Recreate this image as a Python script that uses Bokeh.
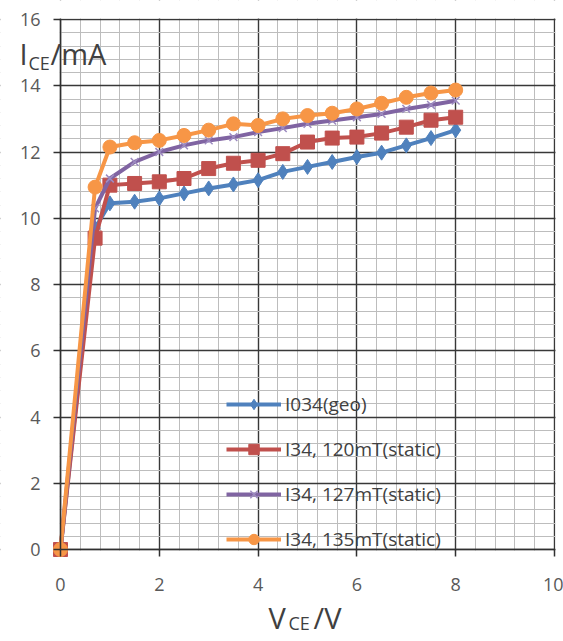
from bokeh.plotting import figure
from bokeh.models import FixedTicker, Range1d, Label, Legend, LegendItem, BoxAnnotation
from bokeh.embed import file_html
from bokeh.resources import INLINE

# ---- data ----
vce = [0, 0.7, 1, 1.5, 2, 2.5, 3, 3.5, 4, 4.5, 5, 5.5, 6, 6.5, 7, 7.5, 8]
i_geo = [0, 9.7, 10.45, 10.5, 10.6, 10.75, 10.9, 11.02, 11.15, 11.4, 11.55, 11.7, 11.85, 11.98, 12.2, 12.42, 12.66]
i_120 = [0, 9.4, 11.0, 11.05, 11.1, 11.2, 11.5, 11.66, 11.75, 11.95, 12.3, 12.42, 12.45, 12.57, 12.75, 12.96, 13.05]
i_127 = [0, 10.3, 11.2, 11.7, 12.0, 12.2, 12.35, 12.45, 12.6, 12.72, 12.85, 12.95, 13.05, 13.15, 13.3, 13.42, 13.55]
i_135 = [0, 10.94, 12.15, 12.28, 12.35, 12.5, 12.66, 12.85, 12.8, 13.0, 13.1, 13.17, 13.3, 13.47, 13.65, 13.78, 13.87]
series_names = ["I034(geo)", "I34, 120mT(static)", "I34, 127mT(static)", "I34, 135mT(static)"]
x_ticks = [0, 2, 4, 6, 8, 10]
y_ticks = [0, 2, 4, 6, 8, 10, 12, 14, 16]
x_minor = [round(0.4 * k, 1) for k in range(26)]
y_minor = [round(0.4 * k, 1) for k in range(41)]
X_MIN, X_MAX = 0, 10
Y_MIN, Y_MAX = 0, 16

FONT = "Open Sans"
TXT = "#404040"

W, H = 563, 641
FL, FR, FT, FB = 60, 554, 19, 549          # pixel position of the 0..10 / 0..16 box
sx = (FR - FL) / (X_MAX - X_MIN)
sy = (FB - FT) / (Y_MAX - Y_MIN)
xr = Range1d(X_MIN - FL / sx, X_MAX + (W - FR) / sx)
yr = Range1d(Y_MIN - (H - FB) / sy, Y_MAX + FT / sy)

p = figure(width=W, height=H, output_backend="svg", toolbar_location=None,
           x_range=xr, y_range=yr, min_border=0,
           min_border_left=0, min_border_right=0, min_border_top=0, min_border_bottom=0)
p.outline_line_color = None
p.background_fill_color = "white"
p.border_fill_color = "white"

for g in (p.xgrid[0], p.ygrid[0]):
    g.grid_line_color = "#383838"
    g.grid_line_width = 1.4
    g.minor_grid_line_color = "#bdbdbd"
    g.minor_grid_line_width = 1
p.xgrid[0].ticker = FixedTicker(ticks=x_ticks, minor_ticks=x_minor)
p.ygrid[0].ticker = FixedTicker(ticks=y_ticks, minor_ticks=y_minor)

# white masks outside the 0..10 x 0..16 box (grid only)
for kw in (dict(right=X_MIN - 0.02), dict(left=X_MAX + 0.02),
           dict(top=Y_MIN - 0.03), dict(bottom=Y_MAX + 0.03)):
    p.add_layout(BoxAnnotation(fill_color="white", fill_alpha=1, line_color=None,
                               level="underlay", **kw))

for ax, ticks, minor, b in ((p.xaxis[0], x_ticks, x_minor, (X_MIN, X_MAX)),
                            (p.yaxis[0], y_ticks, y_minor, (Y_MIN, Y_MAX))):
    ax.ticker = FixedTicker(ticks=ticks, minor_ticks=minor)
    ax.fixed_location = 0
    ax.bounds = b
    ax.axis_line_color = "#303030"
    ax.axis_line_width = 1.5
    ax.major_tick_line_color = "#303030"
    ax.major_tick_line_width = 1.5
    ax.major_tick_out = 7
    ax.major_tick_in = 0
    ax.minor_tick_line_color = None
    ax.major_label_text_font = FONT
    ax.major_label_text_font_size = "18px"
    ax.major_label_text_color = "#595959"
p.xaxis.major_label_standoff = 21
p.yaxis.major_label_standoff = 13

colors = ["#4F81BD", "#C0504D", "#8064A2", "#F79646"]
ys = [i_geo, i_120, i_127, i_135]
markers = ["diamond", "square", "x", "circle"]
sizes = [15, 14, 11, 14]
items = []
for y, c, m, s, name in zip(ys, colors, markers, sizes, series_names):
    ln = p.line(vce, y, line_color=c, line_width=4)
    if m == "x":
        mk = p.scatter(vce, y, marker="x", size=s, line_color="#9d8bc0", line_width=1.5)
    else:
        mk = p.scatter(vce, y, marker=m, size=s, fill_color=c, line_color=c)
    items.append(LegendItem(label=name, renderers=[ln, mk]))

legend = Legend(items=items, location=(226, 89), padding=0, margin=0, spacing=19,
                glyph_width=55, glyph_height=26, label_height=26, label_standoff=4,
                label_text_font=FONT, label_text_font_size="19px", label_text_color=TXT,
                border_line_color=None, background_fill_alpha=0)
p.add_layout(legend)

# axis titles with subscripts (data units)
def put(px, py, t, size):
    p.add_layout(Label(x=X_MIN + (px - FL) / sx, y=Y_MIN + (FB - py) / sy, text=t,
                       text_font=FONT, text_font_size=size, text_color=TXT,
                       text_align="left", text_baseline="alphabetic"))

put(19, 53, "I", "29px")
put(28, 62, "CE", "18px")
put(50, 53, "/mA", "29px")

put(268, 617, "V", "29px")
put(288, 622, "CE", "18px")
put(313, 617, "/V", "29px")

open("out.html", "w").write(file_html(p, INLINE))
